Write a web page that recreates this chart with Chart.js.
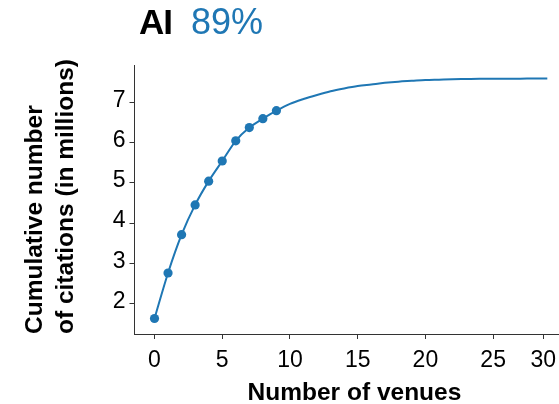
<!DOCTYPE html>
<html>
<head>
<meta charset="utf-8">
<script src="https://cdn.jsdelivr.net/npm/chart.js@4.4.1/dist/chart.umd.min.js"></script>
<style>
  html, body { margin: 0; padding: 0; overflow: hidden; background: #fff; width: 559px; height: 404px; }
  #wrap { position: relative; width: 579px; height: 404px; }
  #c { position: absolute; left: 0; top: 0; }
  .t { position: absolute; font-family: 'Liberation Sans', Arial, sans-serif; line-height: 1; white-space: nowrap; }
</style>
</head>
<body>
<div id="wrap">
  <canvas id="c" width="579" height="404"></canvas>
  <div class="t" style="left:139px; top:4px; font-size:35px; font-weight:bold; color:#000; letter-spacing:-1px;">AI</div>
  <div class="t" style="left:191px; top:3.5px; font-size:36px; color:#1f77b4;">89%</div>
</div>
<script>
// ---- data ----
const venueCounts = [0, 1, 2, 3, 4, 5, 6, 7, 8, 9, 10, 11, 12, 13, 14, 15, 16, 17, 18, 19, 20, 21, 22, 23, 24, 25, 26, 27, 28, 29];
const citationsMillions = [1.63, 2.76, 3.71, 4.45, 5.04, 5.54, 6.04, 6.37, 6.59, 6.79,
                           6.96, 7.08, 7.18, 7.27, 7.34, 7.40, 7.44, 7.48, 7.51, 7.53,
                           7.55, 7.56, 7.57, 7.575, 7.58, 7.58, 7.585, 7.585, 7.59, 7.59];
const markedPointCount = 10;   // first venues drawn with a dot
const xTickValues = [0, 5, 10, 15, 20, 25, 28.7];
const xTickLabels = ['0', '5', '10', '15', '20', '25', '30'];
const yTickValues = [2, 3, 4, 5, 6, 7];
const yTickLabels = ['2', '3', '4', '5', '6', '7'];

const BLUE = '#1f77b4';
const AXIS = '#333333';
const FONT = "'Liberation Sans', Arial, sans-serif";

const points = venueCounts.map((v, i) => ({ x: v, y: citationsMillions[i] }));

new Chart(document.getElementById('c'), {
  type: 'line',
  data: {
    datasets: [{
      data: points,
      borderColor: BLUE,
      backgroundColor: BLUE,
      borderWidth: 2,
      cubicInterpolationMode: 'monotone',
      fill: false,
      pointRadius: ctx => ctx.dataIndex < markedPointCount ? 4.6 : 0,
      pointBackgroundColor: BLUE,
      pointBorderWidth: 0,
      pointHoverRadius: 0
    }]
  },
  options: {
    responsive: false,
    animation: false,
    events: [],
    layout: { padding: { top: 65.7, left: 0, right: 0, bottom: 0 } },
    plugins: { legend: { display: false }, tooltip: { enabled: false }, title: { display: false } },
    scales: {
      x: {
        type: 'linear',
        min: -1.476,
        max: 31,
        afterBuildTicks: s => { s.ticks = xTickValues.map(v => ({ value: v })); },
        afterFit: s => { s.height = 70; s.paddingLeft = 0; s.paddingRight = 0; },
        border: { display: true, color: AXIS, width: 1 },
        grid: { display: true, drawOnChartArea: false, drawTicks: true, tickLength: 5, color: AXIS, lineWidth: 1 },
        ticks: {
          autoSkip: false,
          maxRotation: 0,
          padding: 8,
          color: '#000',
          font: { family: FONT, size: 23 },
          callback: (v, i) => xTickLabels[i]
        },
        title: {
          display: true,
          text: 'Number of venues',
          color: '#000',
          font: { family: FONT, size: 24.5, weight: 'bold', lineHeight: 0.9 },
          padding: { top: 0, bottom: 0 }
        }
      },
      y: {
        type: 'linear',
        min: 1.245,
        max: 7.906,
        afterBuildTicks: s => { s.ticks = yTickValues.map(v => ({ value: v })); },
        afterFit: s => { s.width = 134.5; s.paddingTop = 0; s.paddingBottom = 0; },
        border: { display: true, color: AXIS, width: 1 },
        grid: { display: true, drawOnChartArea: false, drawTicks: true, tickLength: 5, color: AXIS, lineWidth: 1 },
        ticks: {
          autoSkip: false,
          padding: 4,
          labelOffset: -2,
          color: '#000',
          font: { family: FONT, size: 23 },
          callback: (v, i) => yTickLabels[i]
        },
        title: {
          display: true,
          align: 'start',
          text: ['Cumulative number', 'of citations (in millions)'],
          color: '#000',
          font: { family: FONT, size: 24.5, weight: 'bold', lineHeight: 1.265 },
          padding: { top: 19.5, bottom: 0 }
        }
      }
    }
  }
});
</script>
</body>
</html>
